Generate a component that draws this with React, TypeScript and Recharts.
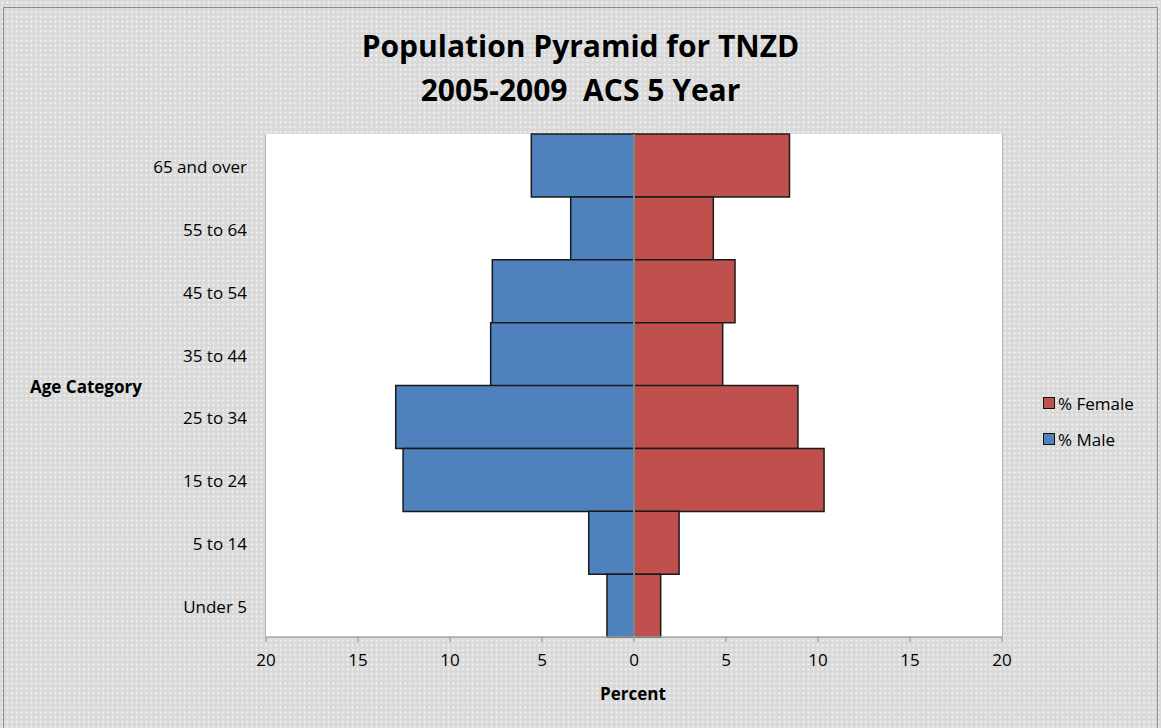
import React from 'react';
import { BarChart, Bar, XAxis, YAxis, CartesianGrid, ReferenceLine } from 'recharts';

const categories = ['65 and over', '55 to 64', '45 to 54', '35 to 44', '25 to 34', '15 to 24', '5 to 14', 'Under 5'];
const malePct = [5.58, 3.44, 7.7, 7.79, 12.95, 12.55, 2.46, 1.47];
const femalePct = [8.45, 4.31, 5.49, 4.82, 8.91, 10.33, 2.45, 1.45];
const xTicks = [-20, -15, -10, -5, 0, 5, 10, 15, 20];

const data = categories.map((c, i) => ({ age: c, male: -malePct[i], female: femalePct[i] }));

const FONT = '"Open Sans", Lato, sans-serif';
const BLUE = '#4f81bd';
const RED = '#c0504d';
const FS = 17;

export default function App() {
  return (
    <div
      style={{
        position: 'absolute',
        left: 0,
        top: 0,
        width: 1161,
        height: 728,
        overflow: 'hidden',
        backgroundColor: '#d9d9d9',
        backgroundImage: 'radial-gradient(circle, #f4f4f4 0.9px, transparent 1.1px)',
        backgroundSize: '4.8px 4.8px',
        fontFamily: FONT,
        color: '#000',
      }}
    >
      <div style={{ position: 'absolute', left: 3, top: 7, width: 1153, height: 740, border: '1px solid #8c8c8c' }} />
      <div style={{ position: 'absolute', left: 0, top: 24, width: 1161, textAlign: 'center', fontWeight: 700, fontSize: 30, lineHeight: '44px' }}>
        Population Pyramid for TNZD
        <br />
        2005-2009&nbsp; ACS 5 Year
      </div>
      <div style={{ position: 'absolute', left: 30, top: 375, fontWeight: 700, fontSize: FS }}>Age Category</div>
      <div style={{ position: 'absolute', left: 533, width: 200, textAlign: 'center', top: 682, fontWeight: 700, fontSize: FS }}>Percent</div>
      <div style={{ position: 'absolute', left: 1043, top: 391, fontSize: FS }}>
        {[
          { name: '% Female', color: RED },
          { name: '% Male', color: BLUE },
        ].map((it) => (
          <div key={it.name} style={{ display: 'flex', alignItems: 'center', height: 24, marginBottom: 12 }}>
            <span style={{ display: 'inline-block', width: 10, height: 10, background: it.color, border: '1px solid #111', marginRight: 3 }} />
            <span>{it.name}</span>
          </div>
        ))}
      </div>
      <div style={{ position: 'absolute', left: 0, top: 0 }}>
        <BarChart
          width={1161}
          height={728}
          data={data}
          layout="vertical"
          stackOffset="sign"
          barCategoryGap={0}
          barGap={0}
          margin={{ top: 134, right: 159, bottom: 61, left: 0 }}
        >
          <rect x={266} y={134} width={736} height={503} fill="#ffffff" />
          <CartesianGrid horizontal={false} stroke="#a6a6a6" strokeWidth={1.5} />
          <XAxis
            type="number"
            domain={[-20, 20]}
            ticks={xTicks}
            tickFormatter={(v: number) => String(Math.abs(v))}
            stroke="#a6a6a6"
            strokeWidth={1.5}
            tickSize={5}
            tickMargin={12}
            height={30}
            tick={{ fill: '#000', fontSize: FS, fontFamily: FONT }}
            allowDataOverflow
          />
          <YAxis
            type="category"
            dataKey="age"
            width={266}
            axisLine={false}
            tickLine={false}
            tickSize={0}
            tickMargin={19}
            tick={{ fill: '#000', fontSize: FS, fontFamily: FONT, dy: 1.5 }}
          />
          <Bar dataKey="male" stackId="a" fill={BLUE} stroke="#1a1a1a" strokeWidth={1.5} isAnimationActive={false} />
          <Bar dataKey="female" stackId="a" fill={RED} stroke="#1a1a1a" strokeWidth={1.5} isAnimationActive={false} />
          <ReferenceLine x={0} stroke="#a6a6a6" strokeWidth={1.5} />
        </BarChart>
      </div>
    </div>
  );
}
